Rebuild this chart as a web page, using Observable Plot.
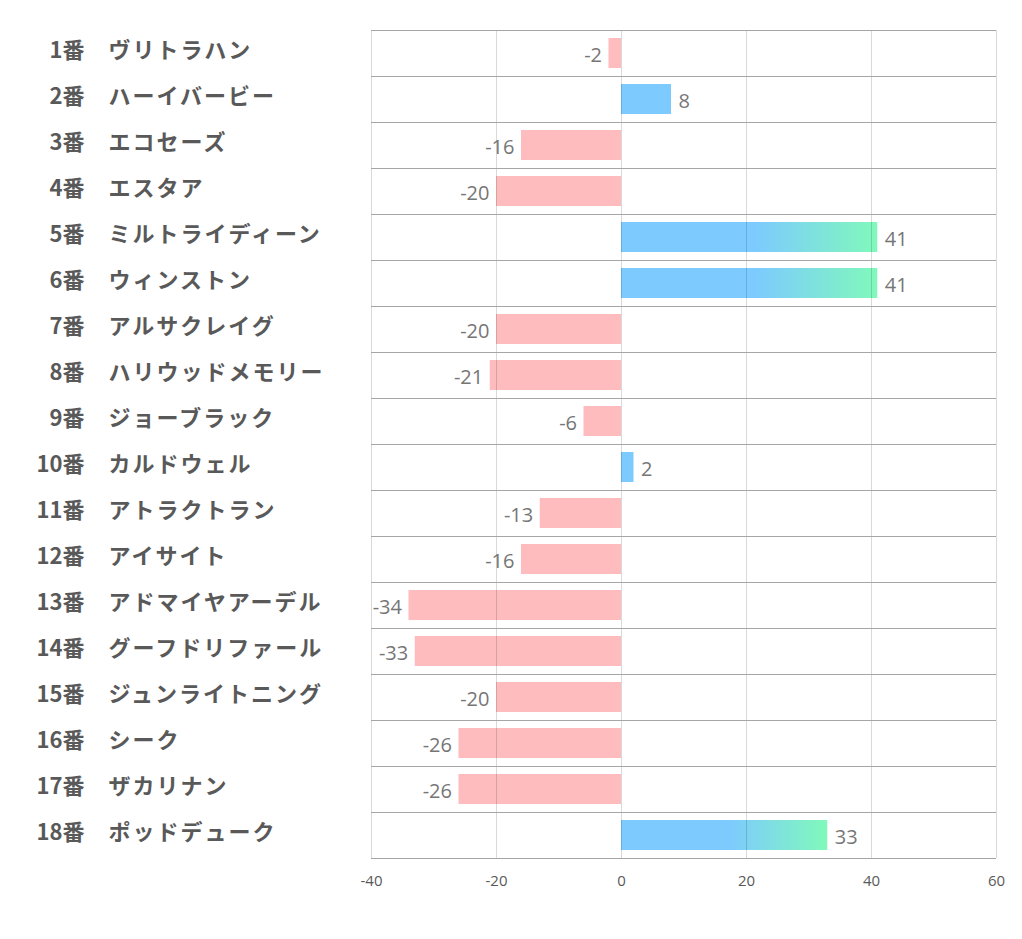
<!DOCTYPE html>
<html><head><meta charset="utf-8">
<script src="https://cdn.jsdelivr.net/npm/d3@7"></script>
<script src="https://cdn.jsdelivr.net/npm/@observablehq/plot@0.6"></script>
<style>body{margin:0;background:#fff;} svg{display:block;}</style>
</head><body><div id="chart"></div>
<script>
const numbers = ["1番","2番","3番","4番","5番","6番","7番","8番","9番","10番","11番","12番","13番","14番","15番","16番","17番","18番"];
const names = ["ヴリトラハン","ハーイバービー","エコセーズ","エスタア","ミルトライディーン","ウィンストン","アルサクレイグ","ハリウッドメモリー","ジョーブラック","カルドウェル","アトラクトラン","アイサイト","アドマイヤアーデル","グーフドリファール","ジュンライトニング","シーク","ザカリナン","ポッドデューク"];
const values = [-2,8,-16,-20,41,41,-20,-21,-6,2,-13,-16,-34,-33,-20,-26,-26,33];
const xTicks = [-40,-20,0,20,40,60];

const data = values.map((v,i)=>({i, num:numbers[i], name:names[i], v}));
const neg = data.filter(d => d.v < 0), pos = data.filter(d => d.v >= 0);
const fillOf = d => d.v < 0 ? "#ffbcbe" : (d.v > 20 ? "url(#gradBar)" : "#7dcbfe");
const font = "'Noto Sans CJK JP', 'Noto Sans', sans-serif";
const numFont = "'Open Sans', 'Noto Sans', sans-serif";

const chart = Plot.plot({
  width: 1022, height: 900,
  marginLeft: 371, marginRight: 26, marginTop: 30, marginBottom: 42,
  style: {fontFamily: numFont, background: "#fff"},
  x: {domain: [-40, 60], label: null, axis: null},
  y: {domain: [18, 0], axis: null},
  marks: [
    Plot.rectX(data, {x1: 0, x2: "v", y1: "i", y2: d => d.i + 1, insetTop: 8, insetBottom: 8, fill: fillOf}),
    Plot.ruleX(xTicks, {stroke: "#000", strokeOpacity: 0.15}),
    Plot.ruleY(d3.range(19), {stroke: "#a6a6a6"}),
    Plot.text(xTicks, {x: d => d, frameAnchor: "bottom", dy: 23, lineAnchor: "middle", text: d => String(d),
      fontSize: 15, fill: "#595959"}),
    Plot.text(neg, {x: "v", y: d => d.i + 0.5, text: d => String(d.v), textAnchor: "end", dx: -7, dy: 2,
      fontSize: 20, fill: "#767676"}),
    Plot.text(pos, {x: "v", y: d => d.i + 0.5, text: d => String(d.v), textAnchor: "start", dx: 7, dy: 2,
      fontSize: 20, fill: "#767676"}),
    Plot.text(data, {frameAnchor: "left", y: d => d.i + 0.5, text: "num", textAnchor: "end",
      dx: -287, dy: -3, fontSize: 22, fontWeight: "bold", fill: "#595959", fontFamily: font}),
    Plot.text(data, {frameAnchor: "left", y: d => d.i + 0.5, text: "name", textAnchor: "start",
      dx: -263, dy: -3, fontSize: 22, fontWeight: "bold", fill: "#595959", fontFamily: font})
  ]
});
d3.select(chart).selectAll("g[aria-label='text']").filter((d,i)=>i===4).selectAll("text")
  .style("letter-spacing", "2px");
d3.select(chart).insert("defs", ":first-child").html(
  `<linearGradient id="gradBar" x1="0" x2="1" y1="0" y2="0">
     <stop offset="0" stop-color="#7dcbfe"/>
     <stop offset="0.53" stop-color="#7dcbfe"/>
     <stop offset="1" stop-color="#80f9bb"/>
   </linearGradient>`);
document.getElementById("chart").appendChild(chart);
</script>
</body></html>
